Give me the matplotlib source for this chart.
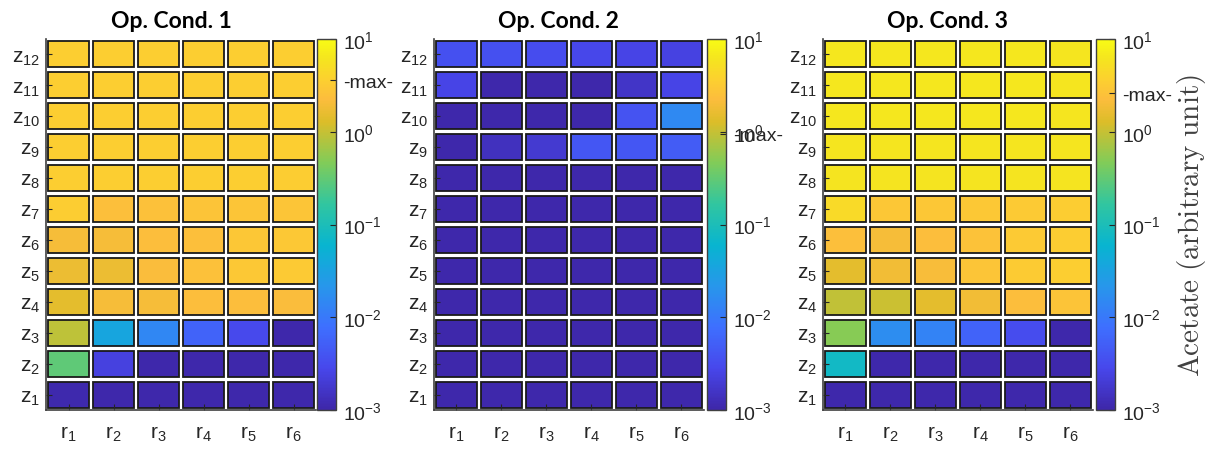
import numpy as np
import matplotlib.pyplot as plt
from matplotlib.colors import LinearSegmentedColormap, LogNorm
from matplotlib.cm import ScalarMappable
from matplotlib.patches import Rectangle

plt.rcParams['font.family'] = ['Liberation Sans', 'DejaVu Sans']
plt.rcParams['mathtext.default'] = 'regular'

titles = ['Op. Cond. 1', 'Op. Cond. 2', 'Op. Cond. 3']
r_labels = ['r$_{%d}$' % i for i in range(1, 7)]
z_labels = ['z$_{%d}$' % i for i in range(1, 13)]
max_marks = [3.6, 0.95, 2.6]
cbar_label = r'$\mathrm{Acetate\ (arbitrary\ unit)}$'

# rows listed z12 -> z1, columns r1 -> r6
cond1 = [
    [3.5, 3.5, 3.5, 3.5, 3.5, 3.5],
    [3.5, 3.5, 3.5, 3.5, 3.5, 3.5],
    [3.5, 3.5, 3.5, 3.5, 3.5, 3.4],
    [3.5, 3.5, 3.5, 3.5, 3.4, 3.4],
    [3.4, 3.4, 3.4, 3.4, 3.4, 3.3],
    [3.3, 2.4, 2.5, 2.7, 2.8, 2.8],
    [2.0, 2.0, 2.3, 2.4, 2.9, 3.0],
    [1.7, 1.7, 2.2, 2.5, 3.0, 3.1],
    [1.45, 2.0, 2.0, 2.3, 2.3, 2.2],
    [0.9, 0.036, 0.0145, 0.0058, 0.003, 0.00105],
    [0.3, 0.0023, 0.00105, 0.00105, 0.00105, 0.00105],
    [0.0011, 0.00105, 0.00105, 0.00105, 0.00105, 0.00105],
]
cond2 = [
    [0.0036, 0.0036, 0.0032, 0.0028, 0.0026, 0.0024],
    [0.0026, 0.00105, 0.00105, 0.00105, 0.0016, 0.0026],
    [0.00105, 0.00105, 0.00105, 0.00105, 0.0038, 0.015],
    [0.00105, 0.0014, 0.0019, 0.0042, 0.0042, 0.0048],
    [0.00105, 0.00105, 0.00105, 0.00105, 0.00105, 0.00105],
    [0.00105, 0.00105, 0.00105, 0.00105, 0.00105, 0.00105],
    [0.00105, 0.00105, 0.00105, 0.00105, 0.00105, 0.00105],
    [0.00105, 0.00105, 0.00105, 0.00105, 0.00105, 0.00105],
    [0.00105, 0.00105, 0.00105, 0.00105, 0.00105, 0.00105],
    [0.00105, 0.00105, 0.00105, 0.00105, 0.00105, 0.00105],
    [0.00105, 0.00105, 0.00105, 0.00105, 0.00105, 0.00105],
    [0.00105, 0.00105, 0.00105, 0.00105, 0.00105, 0.00105],
]
cond3 = [
    [6.3, 6.3, 6.3, 6.3, 6.3, 6.2],
    [6.3, 6.3, 6.3, 6.3, 6.3, 6.2],
    [6.3, 6.3, 6.3, 6.3, 6.3, 6.2],
    [6.2, 6.2, 6.2, 6.2, 6.2, 6.1],
    [6.0, 6.0, 6.0, 6.0, 6.0, 5.9],
    [4.6, 2.9, 2.9, 3.0, 3.1, 3.3],
    [2.4, 2.0, 2.3, 2.6, 3.1, 3.3],
    [1.45, 1.9, 2.1, 2.8, 3.2, 3.4],
    [0.95, 1.05, 1.45, 1.9, 2.3, 2.7],
    [0.5, 0.017, 0.013, 0.0058, 0.0032, 0.00105],
    [0.075, 0.00105, 0.00105, 0.00105, 0.00105, 0.00105],
    [0.00105, 0.00105, 0.00105, 0.00105, 0.00105, 0.00105],
]
conditions = [cond1, cond2, cond3]

# approximation of MATLAB's parula
parula_pts = [
    (0.000, (0.2422, 0.1504, 0.6603)),
    (0.111, (0.2803, 0.2782, 0.9221)),
    (0.222, (0.2440, 0.4358, 0.9988)),
    (0.333, (0.1540, 0.5902, 0.9218)),
    (0.444, (0.0297, 0.7082, 0.8163)),
    (0.556, (0.1938, 0.7758, 0.6251)),
    (0.667, (0.5044, 0.7993, 0.3480)),
    (0.778, (0.8634, 0.7406, 0.1596)),
    (0.840, (0.9900, 0.7400, 0.2400)),
    (0.889, (0.9892, 0.8136, 0.1885)),
    (0.950, (0.9600, 0.9000, 0.1200)),
    (1.000, (0.9769, 0.9839, 0.0805)),
]
parula = LinearSegmentedColormap.from_list('parula', parula_pts)
norm = LogNorm(vmin=1e-3, vmax=1e1)

fig = plt.figure(figsize=(12.12, 4.52), dpi=100)

ax_lefts = [0.038, 0.358, 0.679]
cb_lefts = [0.2616, 0.5833, 0.9043]
bottom, height = 0.0907, 0.8208
gap = 0.04

for k in range(3):
    ax = fig.add_axes([ax_lefts[k], bottom, 0.2228, height])
    data = np.array(conditions[k])[::-1]
    for j in range(data.shape[0]):
        for i in range(data.shape[1]):
            ax.add_patch(Rectangle((i + 1 - 0.5 + gap, j + 1 - 0.5 + gap * 2),
                                   1 - 2 * gap, 1 - 4 * gap,
                                   facecolor=parula(norm(data[j, i])),
                                   edgecolor='#1a1a1a', linewidth=1.3))
    ax.set_xlim(0.5, 6.5)
    ax.set_ylim(0.5, 12.5)
    ax.set_xticks(range(1, 7))
    ax.set_xticklabels(r_labels, fontsize=15, color='#262626')
    ax.set_yticks(range(1, 13))
    ax.set_yticklabels(z_labels, fontsize=15, color='#262626')
    ax.tick_params(direction='in', length=4, width=0.8, color='#262626')
    ax.tick_params(axis='x', pad=10)
    ax.tick_params(axis='y', pad=4)
    for s in ['top', 'right']:
        ax.spines[s].set_visible(False)
    for s in ['left', 'bottom']:
        ax.spines[s].set_color('#404040')
        ax.spines[s].set_linewidth(1.2)
    ax.set_title(titles[k], fontsize=16.5, fontweight='bold', family=['Lato', 'DejaVu Sans'],
                 pad=9, x=0.463)

    cax = fig.add_axes([cb_lefts[k], bottom, 0.0155, height])
    cb = fig.colorbar(ScalarMappable(norm=norm, cmap=parula), cax=cax)
    cb.minorticks_off()
    ticks = [1e-3, 1e-2, 1e-1, 1e0, max_marks[k], 1e1]
    labels = ['10$^{-3}$', '10$^{-2}$', '10$^{-1}$', '10$^{0}$', '-max-', '10$^{1}$']
    cb.set_ticks(ticks)
    cb.set_ticklabels(labels)
    cax.tick_params(direction='in', length=4, width=0.8, labelsize=14, color='#262626',
                    labelcolor='#262626', pad=5)
    cb.outline.set_edgecolor('#404040')
    cb.outline.set_linewidth(1.0)
    if k == 2:
        cb.set_label(cbar_label, fontsize=21, color='#404040', math_fontfamily='cm', labelpad=2)

fig.savefig('out.png', dpi=100)
